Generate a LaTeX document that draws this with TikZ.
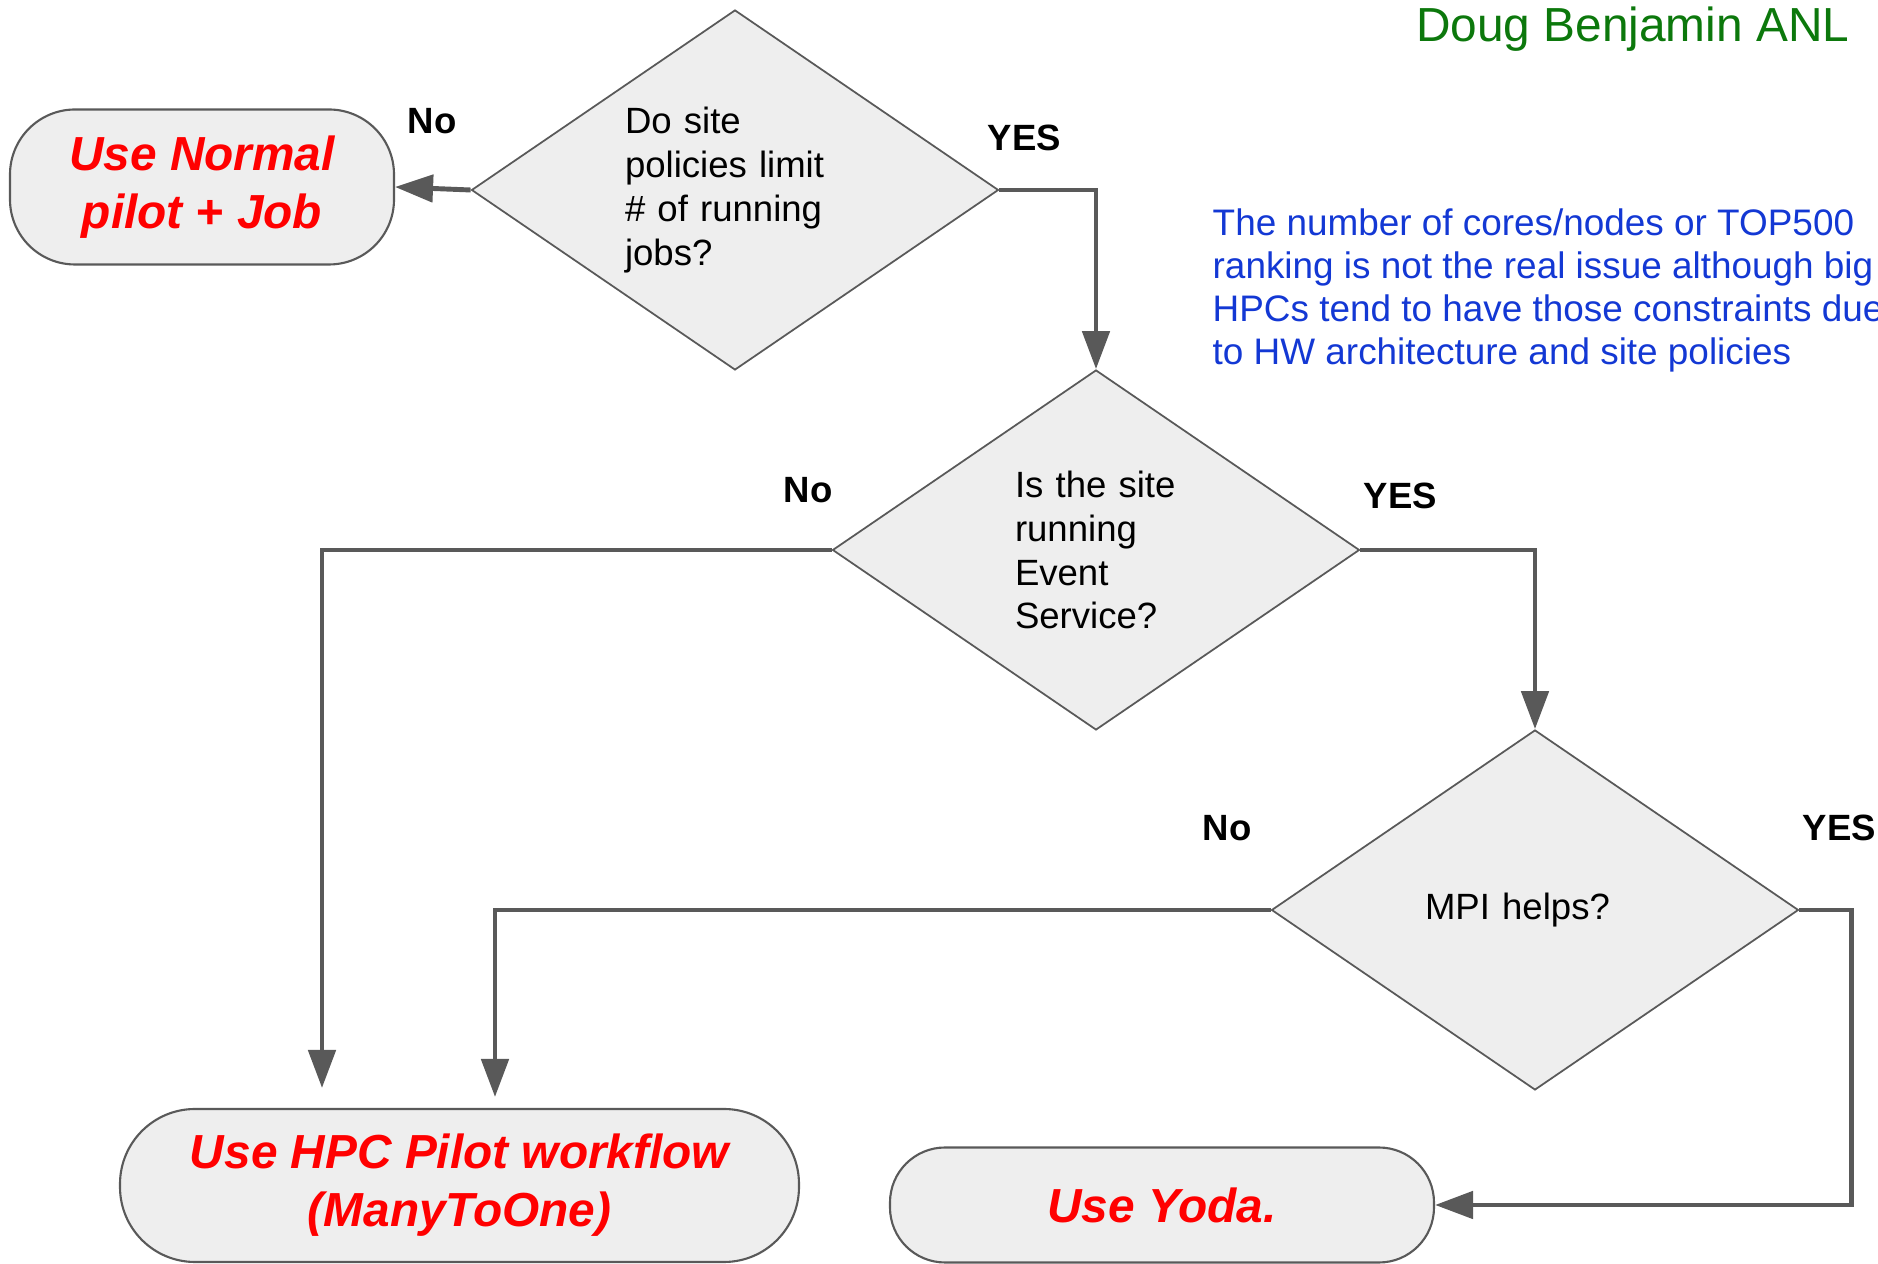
\documentclass[tikz,border=0pt]{standalone}
\usepackage{fontspec}
\setmainfont{Liberation Sans}
\usepackage{tikz}
\usetikzlibrary{positioning,arrows.meta,shapes.geometric}
\definecolor{linegray}{HTML}{595959}
\definecolor{shapegray}{HTML}{EEEEEE}
\definecolor{authorgreen}{HTML}{0C780C}
\definecolor{noteblue}{HTML}{1338D4}

\begin{document}
\begin{tikzpicture}[
  question/.style={diamond,aspect=1.46,draw=linegray,line width=0.5pt,fill=shapegray,minimum width=5.27cm,minimum height=3.6cm,inner sep=0pt,text width=2.2cm,align=left,font=\fontsize{10.4}{12.5}\selectfont},
  outcome/.style={rectangle,draw=linegray,line width=0.6pt,fill=shapegray,align=center,text=red,font=\fontsize{13.6}{16.5}\selectfont\bfseries\itshape},
  answer/.style={anchor=base west,inner sep=0pt,font=\fontsize{10.4}{12.5}\selectfont\bfseries},
  flow/.style={-{Triangle[length=3.8mm,width=2.7mm]},line width=1.4pt,linegray},
]
\useasboundingbox (0,0) rectangle (18.78,12.64);

% Decisions
\node[question] (q1) at (7.35,10.74) {Do site\\policies limit\\\# of running\\jobs?};
\node[question,text width=1.62cm] (q2) at (10.96,7.14) {Is the site\\running\\Event\\Service?};
\node[question] (q3) at (15.35,3.54) {MPI helps?};

% Outcomes
\node[outcome,minimum width=3.84cm,minimum height=1.55cm,rounded corners=6.5mm] (normal) at (2.02,10.77) {Use Normal\\pilot + Job};
\node[outcome,minimum width=6.79cm,minimum height=1.53cm,rounded corners=7.5mm] (hpc) at (4.595,0.785) {Use HPC Pilot workflow\\(ManyToOne)};
\node[outcome,minimum width=5.44cm,minimum height=1.15cm,rounded corners=5.5mm] (yoda) at (11.62,0.59) {Use Yoda.};

% Branch labels
\node[answer] (no1)  at (4.07,11.30)  {No};
\node[answer] (yes1) at (9.87,11.13)  {YES};
\node[answer] (no2)  at (7.83,7.61)   {No};
\node[answer] (yes2) at (13.63,7.55)  {YES};
\node[answer] (no3)  at (12.02,4.23)  {No};
\node[answer] (yes3) at (18.02,4.23)  {YES};

% Author and side note
\node[anchor=base east,inner sep=0pt,text=authorgreen,font=\fontsize{13.6}{16}\selectfont] (author) at (18.50,12.22) {Doug Benjamin ANL};
\node[anchor=west,inner sep=0pt,align=left,text=noteblue,font=\fontsize{10.5}{12.2}\selectfont] (note) at (12.12,9.735)
  {The number of cores/nodes or TOP500\\ranking is not the real issue although big\\HPCs tend to have those constraints due\\to HW architecture and site policies};

% Arrow ends above the HPC box
\coordinate (hpcleft)  at (3.22,1.76);
\coordinate (hpcright) at (4.95,1.67);

% Connectors
\draw[flow] (q1.west) -- (normal.east);
\draw[flow] (q1.east) -| (q2.north);
\draw[flow] (q2.west) -| (hpcleft);
\draw[flow] (q2.east) -| (q3.north);
\draw[flow] (q3.west) -| (hpcright);
\draw[flow] (q3.east) -- ++(0.52,0) |- (yoda.east);
\end{tikzpicture}
\end{document}
